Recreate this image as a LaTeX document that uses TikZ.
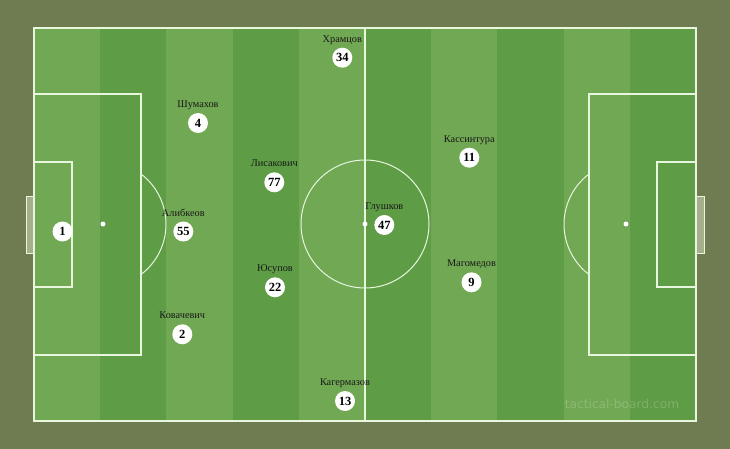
\documentclass[tikz,border=0pt]{standalone}
\usepackage{fontspec}
\setmainfont{Liberation Serif}
\newfontfamily\markfont{DejaVu Sans}
\usetikzlibrary{positioning}

\definecolor{turf}{HTML}{6F7C52}
\definecolor{lightgrass}{HTML}{71A853}
\definecolor{darkgrass}{HTML}{5E9D45}
\definecolor{goalfill}{HTML}{A5AF8C}
\definecolor{chalk}{HTML}{E8F6DE}

\tikzset{
  pitchline/.style={draw=chalk, line width=1.2pt},
  player/.style={circle, fill=white, minimum size=20pt, inner sep=0pt,
    font=\bfseries\fontsize{12.5}{12.5}\selectfont},
  pname/.style={inner sep=0pt, text depth=0pt, text=black!90,
    font=\fontsize{10.3}{10.3}\selectfont},
}

\begin{document}
\begin{tikzpicture}[x=1pt, y=-1pt]
    \fill[turf] (0,0) rectangle (730,449);
    \useasboundingbox (0,0) rectangle (730,449);

    % grass stripes
    \fill[darkgrass] (34,28) rectangle (696,421);
    \foreach \i in {0,2,...,8}
        \fill[lightgrass] ({34+66.2*\i},28) rectangle ({100.2+66.2*\i},421);

    % goals
    \filldraw[fill=goalfill, draw=chalk, line width=1pt] (26,196) rectangle (34,253);
    \filldraw[fill=goalfill, draw=chalk, line width=1pt] (696,196) rectangle (704,253);

    % markings
    \draw[pitchline, line width=1.6pt] (34,28) rectangle (696,421);
    \draw[pitchline] (365,28) -- (365,421);
    \draw[pitchline, line width=1pt] (365,224) circle[radius=64pt];
    \fill[white] (365,224) circle[radius=2.5pt];

    \draw[pitchline] (34,94) rectangle (141,355);
    \draw[pitchline] (34,162) rectangle (72,287);
    \fill[white] (103,224) circle[radius=2.5pt];
    \draw[pitchline, line width=1pt] (141,174) arc[start angle=52.9, end angle=-52.9, radius=63pt];

    \draw[pitchline] (589,94) rectangle (696,355);
    \draw[pitchline] (657,162) rectangle (696,287);
    \fill[white] (626,224) circle[radius=2.5pt];
    \draw[pitchline, line width=1pt] (589,174) arc[start angle=127.1, end angle=232.9, radius=63pt];

    % players
    \tikzset{every label/.style={pname, label distance=5pt}}
    \node[player] (p1) at (62.5,231.5) {1};
    \node[player, label=above:Алибкеов] (p55) at (183.3,231.5) {55};
    \node[player, label=above:Шумахов] (p4) at (198,123) {4};
    \node[player, label=above:Ковачевич] (p2) at (182.3,334.3) {2};
    \node[player, label=above:Лисакович] (p77) at (274.3,182.3) {77};
    \node[player, label=above:Юсупов] (p22) at (275,287.3) {22};
    \node[player, label=above:Храмцов] (p34) at (342.3,57.7) {34};
    \node[player, label=above:Кагермазов] (p13) at (345,401) {13};
    \node[player, label=above:Глушков] (p47) at (384.3,225) {47};
    \node[player, label=above:Кассинтура] (p11) at (469.3,157.7) {11};
    \node[player, label=above:Магомедов] (p9) at (471.5,282.3) {9};

    % watermark
    \node[text=white, opacity=0.2, font=\markfont\fontsize{12.2}{12.2}\selectfont] (mark) at (622,404) {tactical-board.com};
\end{tikzpicture}
\end{document}
